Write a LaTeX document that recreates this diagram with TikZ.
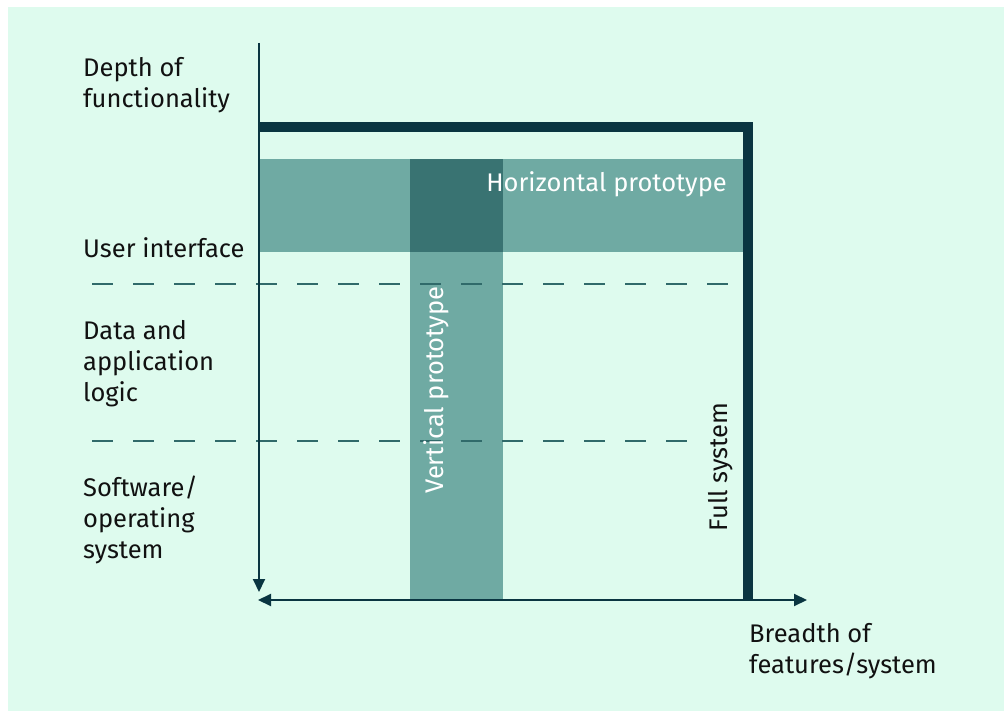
\documentclass[tikz,border=0pt]{standalone}
\usepackage{fontspec}
\setmainfont{Fira Sans}
\usetikzlibrary{arrows.meta}

\definecolor{mint}{HTML}{DEFBEE}
\definecolor{band}{HTML}{6FAAA3}
\definecolor{overlap}{HTML}{397372}
\definecolor{ink}{HTML}{0A3541}
\definecolor{dashcol}{HTML}{306A6A}
\definecolor{txt}{HTML}{111111}

\tikzset{
  label/.style={inner sep=0pt, anchor=base west, text=txt, align=left,
    font=\fontsize{25.5}{31}\selectfont},
  bandlabel/.style={inner sep=0pt, text=white, font=\fontsize{25.5}{31}\selectfont},
  axis/.style={draw=ink, line width=2pt,
    arrows={-Triangle[length=13pt,width=12pt]}},
  fullsys/.style={draw=ink, line width=10pt, line join=miter},
  layer/.style={draw=dashcol, line width=2pt, dash pattern=on 21pt off 20pt},
}

\begin{document}
\begin{tikzpicture}[x=1pt, y=-1pt]
  \useasboundingbox (0,0) rectangle (1004,711);
  \fill[white] (0,0) rectangle (1004,711);
  \fill[mint] (8,7) rectangle (1004,711);

  % prototype bands
  \fill[band] (259,159) rectangle (743,252);
  \fill[band] (410,252) rectangle (503,600);
  \fill[overlap] (410,159) rectangle (503,252);

  % layer separators
  \coordinate (l1a) at (92,284);
  \coordinate (l1b) at (730,284);
  \coordinate (l2a) at (92,441);
  \coordinate (l2b) at (706,441);
  \draw[layer] (l1a) -- (l1b);
  \draw[layer] (l2a) -- (l2b);

  % layer labels (a multi-line node sits on the baseline of its last line)
  \node[label] (depth) at (83,108) {Depth of\\functionality};
  \node[label] (ui) at (83,258) {User interface};
  \node[label] (data) at (83,401) {Data and\\application\\logic};
  \node[label] (os) at (83,558) {Software/\\operating\\system};
  \node[label] (breadth) at (749,673) {Breadth of\\features/system};

  % prototype labels
  \node[bandlabel, anchor=base east] (hproto) at (727,192) {Horizontal prototype};
  \node[bandlabel, anchor=base, rotate=90] (vproto) at (443,390) {Vertical prototype};
  \node[inner sep=0pt, text=txt, font=\fontsize{25.5}{31}\selectfont,
        anchor=base, rotate=90] (full) at (727,467) {Full system};

  % axes
  \coordinate (ytop) at (259,43);
  \coordinate (ybot) at (259,592);
  \coordinate (xleft) at (258,600);
  \coordinate (xright) at (807,600);
  \draw[axis] (ytop) -- (ybot);
  \draw[axis, arrows={Triangle[length=13pt,width=12pt]-Triangle[length=13pt,width=12pt]}] (xleft) -- (xright);

  % full system outline
  \coordinate (fs1) at (259,127);
  \coordinate (fs2) at (748,127);
  \coordinate (fs3) at (748,600);
  \draw[fullsys] (fs1) -- (fs2) -- (fs3);
\end{tikzpicture}
\end{document}
